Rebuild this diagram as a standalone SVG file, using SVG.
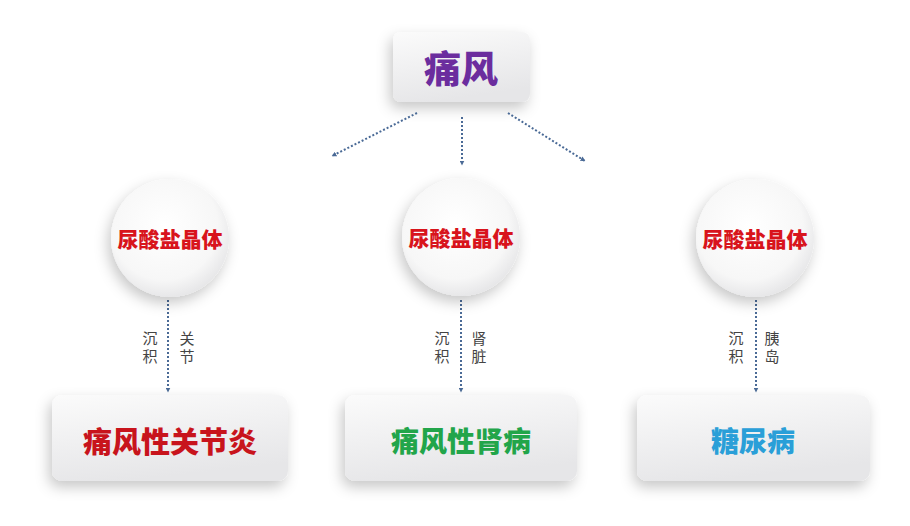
<svg xmlns="http://www.w3.org/2000/svg" width="910" height="526" viewBox="0 0 910 526">
<defs>
<linearGradient id="boxg" x1="0" y1="0" x2="0.3" y2="1">
<stop offset="0" stop-color="#fbfbfb"/>
<stop offset="1" stop-color="#e6e6e8"/>
</linearGradient>
<radialGradient id="circg" cx="0.45" cy="0.4" r="0.65">
<stop offset="0" stop-color="#ffffff"/>
<stop offset="0.7" stop-color="#f7f7f7"/>
<stop offset="1" stop-color="#e2e2e4"/>
</radialGradient>
<filter id="sh" x="-30%" y="-30%" width="160%" height="170%">
<feDropShadow dx="-3" dy="6" stdDeviation="7" flood-color="#000" flood-opacity="0.22"/>
</filter>
<marker id="ah" viewBox="0 0 10 10" refX="9" refY="5" markerWidth="5" markerHeight="5" orient="auto" markerUnits="userSpaceOnUse">
<path d="M0,0 L10,5 L0,10 z" fill="#4a6a96"/>
</marker>
</defs>
<style>
.box{fill:url(#boxg);filter:url(#sh);}
.circ{fill:url(#circg);filter:url(#sh);}
.t{font-family:"Noto Sans CJK SC","Noto Sans",sans-serif;font-weight:900;text-anchor:middle;dominant-baseline:central;}
.ct{font-size:21px;fill:#d8141c;}
.lbl{font-family:"Noto Sans CJK SC","Noto Sans",sans-serif;font-size:15px;fill:#444;writing-mode:vertical-rl;text-anchor:start;letter-spacing:3px;}
.c{stroke:#4a6a96;stroke-width:2;stroke-dasharray:2 2;fill:none;marker-end:url(#ah);}
</style>
<rect width="910" height="526" fill="#ffffff"/>
<g id="top">
<rect class="box" x="393" y="32" width="137" height="70" rx="8"/>
<text class="t" x="461" y="67" font-size="37" fill="#6b2d9e">痛风</text>
</g>
<g id="connectors">
<line class="c" x1="417" y1="113" x2="332" y2="156"/>
<line class="c" x1="462" y1="117" x2="462" y2="165"/>
<line class="c" x1="508" y1="113" x2="585" y2="161"/>
<line class="c" x1="168" y1="300" x2="168" y2="392"/>
<line class="c" x1="461" y1="300" x2="461" y2="392"/>
<line class="c" x1="756" y1="300" x2="756" y2="392"/>
</g>
<g id="labels">
<text class="lbl" x="150" y="331">沉积</text>
<text class="lbl" x="187" y="331">关节</text>
<text class="lbl" x="442" y="331">沉积</text>
<text class="lbl" x="479" y="331">肾脏</text>
<text class="lbl" x="736" y="331">沉积</text>
<text class="lbl" x="772" y="331">胰岛</text>
</g>
<g id="circle1">
<circle class="circ" cx="170" cy="238" r="59"/>
<text class="t ct" x="170" y="238">尿酸盐晶体</text>
</g>
<g id="circle2">
<circle class="circ" cx="461" cy="237" r="59"/>
<text class="t ct" x="461" y="237">尿酸盐晶体</text>
</g>
<g id="circle3">
<circle class="circ" cx="755" cy="238" r="59"/>
<text class="t ct" x="755" y="238">尿酸盐晶体</text>
</g>
<g id="box1">
<rect class="box" x="52" y="395" width="236" height="86" rx="10"/>
<text class="t" x="170" y="440" font-size="29" fill="#c8141c">痛风性关节炎</text>
</g>
<g id="box2">
<rect class="box" x="345" y="395" width="232" height="86" rx="10"/>
<text class="t" x="461" y="440" font-size="28" fill="#22a54a">痛风性肾病</text>
</g>
<g id="box3">
<rect class="box" x="637" y="395" width="233" height="86" rx="10"/>
<text class="t" x="753" y="440" font-size="28" fill="#2a9fd8">糖尿病</text>
</g>
</svg>
